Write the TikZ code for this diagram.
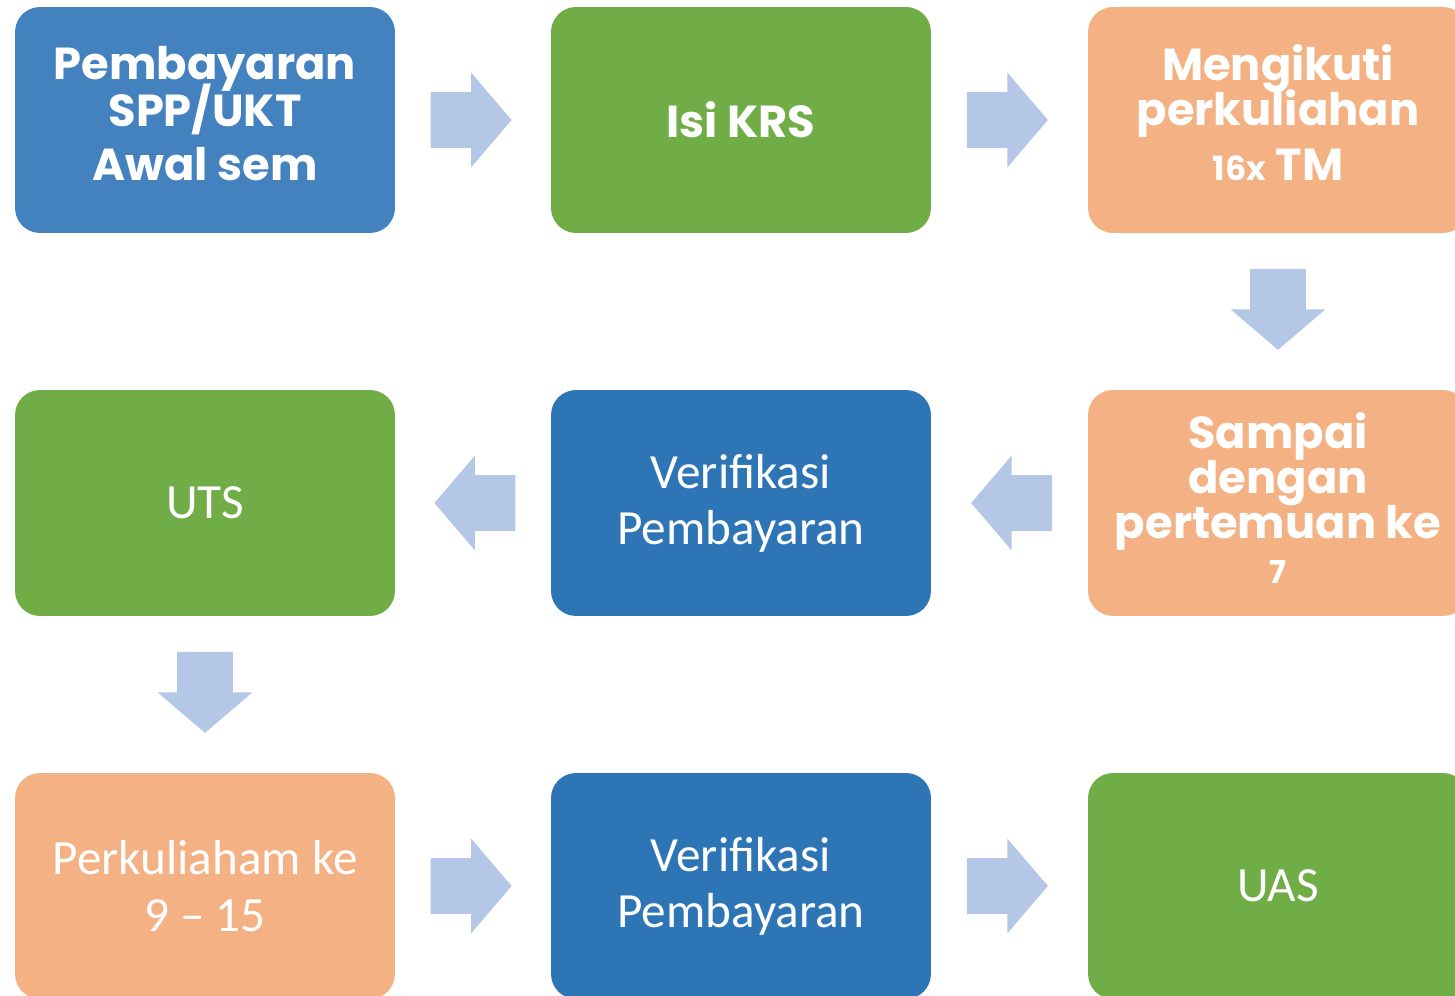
\documentclass[tikz,border=0pt]{standalone}
\usepackage{fontspec}
\setmainfont{Carlito}
\newfontfamily\headfont{Poppins}
\usetikzlibrary{shapes.arrows,calc}

\definecolor{boxblue}{HTML}{4382BF}
\definecolor{darkblue}{HTML}{2E75B6}
\definecolor{boxgreen}{HTML}{70AD47}
\definecolor{boxorange}{HTML}{F4B183}
\definecolor{arrowblue}{HTML}{B4C7E7}
\newcommand\headtext{\headfont\bfseries\fontsize{25.5}{25.5}\selectfont\setlength\lineskiplimit{-30pt}\setlength\lineskip{0pt}}
\newcommand\lift[1]{\rule[-#1]{0pt}{0pt}}
\tikzstyle{box} = [rounded corners=0.5cm, minimum width=7.6cm, minimum height=4.52cm, align=center, text=white, inner sep=0pt]

\begin{document}
\begin{tikzpicture}[x=0.02cm,y=-0.02cm,
		blue/.style={box, fill=boxblue},
		dblue/.style={box, fill=darkblue},
		green/.style={box, fill=boxgreen},
		orange/.style={box, fill=boxorange},
		head/.style={font=\headtext},
		plain/.style={font=\fontsize{28}{32}\selectfont},
		flow/.style={single arrow, fill=arrowblue, draw=none, inner xsep=0pt, inner ysep=0.55cm,
			minimum height=1.62cm, single arrow head extend=0.39cm, single arrow tip angle=99,
			text width=0pt, text height=0pt, text depth=0pt, anchor=tail}]
		\useasboundingbox (0,0) rectangle (1455,996);
		% first row
		\node (bayar) [blue, head] at (205,120) {Pembayaran\\[1pt]SPP/UKT\\[5.5pt]Awal sem\lift{7pt}};
		\node (krs) [green, head] at (741,120) {Isi KRS};
		\node (kuliah) [orange, head] at (1278,120) {Mengikuti\\perkuliahan\\[5.5pt]{\fontsize{19}{19}\selectfont 16x} TM\lift{8.5pt}};
		% second row
		\node (tujuh) [orange, head] at (1278,503) {Sampai\\dengan\\pertemuan ke\\{\fontsize{18}{18}\selectfont 7}\lift{5.7pt}};
		\node (verif1) [dblue, plain] at (741,503) {Verifikasi\\Pembayaran};
		\node (uts) [green, plain] at (205,503) {UTS};
		% third row
		\node (lanjut) [orange, plain] at (205,886) {Perkuliaham ke\\9 – 15};
		\node (verif2) [dblue, plain] at (741,886) {Verifikasi\\Pembayaran};
		\node (uas) [green, plain] at (1278,886) {UAS};
		% block arrows
		\node (a1) [flow] at ($(bayar.east)!0.225!(krs.west)$) {};
		\node (a2) [flow] at ($(krs.east)!0.225!(kuliah.west)$) {};
		\node (a3) [flow, rotate=-90] at ($(kuliah.south)!0.225!(tujuh.north)$) {};
		\node (a4) [flow, rotate=180] at ($(tujuh.west)!0.225!(verif1.east)$) {};
		\node (a5) [flow, rotate=180] at ($(verif1.west)!0.225!(uts.east)$) {};
		\node (a6) [flow, rotate=-90] at ($(uts.south)!0.225!(lanjut.north)$) {};
		\node (a7) [flow] at ($(lanjut.east)!0.225!(verif2.west)$) {};
		\node (a8) [flow] at ($(verif2.east)!0.225!(uas.west)$) {};
\end{tikzpicture}
\end{document}
